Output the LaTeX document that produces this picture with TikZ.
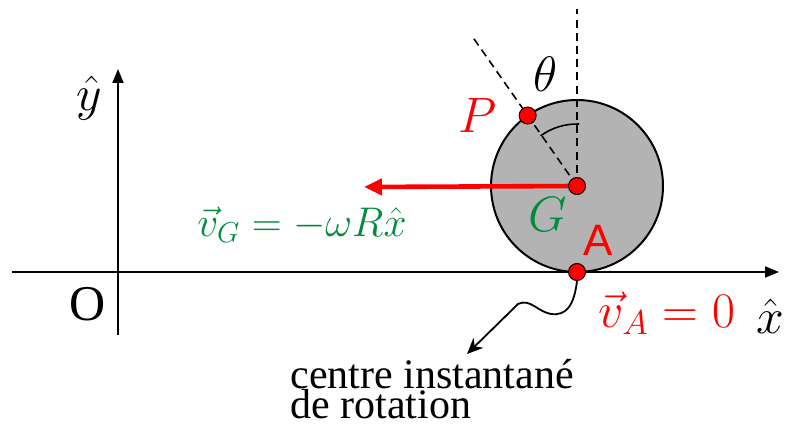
\documentclass[tikz,border=0pt]{standalone}
\usepackage{fontspec}
\setmainfont{Liberation Serif}
\newfontfamily\arialfont{Liberation Sans}
\usepackage{tikz}
\usetikzlibrary{arrows.meta,positioning,calc}

\definecolor{vgreen}{RGB}{0,140,60}
\definecolor{vred}{RGB}{255,0,0}
\definecolor{diskgray}{RGB}{179,179,179}

\tikzset{
  axis/.style={line width=1pt,-{Triangle[length=7pt,width=5.5pt]}},
  guide/.style={line width=0.8pt,dash pattern=on 4pt off 2.6pt},
  dot/.style={circle,draw=black,line width=0.5pt,fill=vred,inner sep=0pt,minimum size=8.5pt},
  lbl/.style={inner sep=0pt}
}

\begin{document}
\begin{tikzpicture}[x=0.5pt,y=0.5pt]
  \useasboundingbox (0,0) rectangle (786,428);
  % ---- axes ----
  \coordinate (xstart) at (12,156);
  \coordinate (xend) at (779,156);
  \coordinate (ystart) at (118,93);
  \coordinate (yend) at (118,359);
  \draw[axis] (xstart) -- (xend);
  \draw[axis] (ystart) -- (yend);
  \node[lbl,font=\fontsize{25}{30}\selectfont] (O) at (88,124) {O};
  \node[lbl,font=\fontsize{24}{28}\selectfont] (yhat) at (89,330) {$\hat{y}$};
  \node[lbl,font=\fontsize{24}{28}\selectfont] (xhat) at (770,112) {$\hat{x}$};

  % ---- disque (centre G, point de contact A) ----
  \coordinate (Gc) at (577,242);
  \draw[fill=diskgray,line width=1pt] (Gc) circle (86);
  % verticale et direction de P (angle theta)
  \coordinate (vtop) at (577,419);
  \coordinate (ptop) at ($(Gc)+(125:182)$);
  \draw[guide] (Gc) -- (vtop);
  \draw[guide] (Gc) -- (ptop);
  \draw[line width=0.8pt] ($(Gc)+(88:62)$) arc (88:126:62);
  \node[lbl,font=\fontsize{24}{28}\selectfont] (theta) at (546,354) {$\theta$};

  % vitesse de G
  \coordinate (vGtip) at (364,241);
  \draw[vred,line width=2.3pt,-{Triangle[length=9pt,width=8pt]}] (Gc) -- (vGtip);
  \node[lbl,text=vgreen,font=\fontsize{22}{26}\selectfont] (vG) at (302,203) {$\vec{v}_G=-\omega R\hat{x}$};

  % points P, G, A
  \node[dot] (P) at ($(Gc)+(125:86)$) {};
  \node[dot] (G) at (Gc) {};
  \node[dot] (A) at (577,156) {};
  \node[lbl,text=vred,font=\fontsize{26}{30}\selectfont] (Plabel) at (478,312) {$P$};
  \node[lbl,text=vgreen,font=\fontsize{26}{30}\selectfont] (Glabel) at (548,213) {$G$};
  \node[lbl,text=vred,font=\arialfont\fontsize{22}{26}\selectfont] (Alabel) at (598,188) {A};
  \node[lbl,text=vred,font=\fontsize{27}{31}\selectfont] (vA) at (667,115) {$\vec{v}_A=0$};

  % centre instantane de rotation (fleche ondulee)
  \node[lbl,align=left,anchor=north west,font=\fontsize{21}{15}\selectfont] (cir) at (290,69) {centre instantané\\de rotation};
  \coordinate (cirtip) at (467,74);
  \draw[line width=0.9pt,-{Stealth[length=8pt,width=7pt]}] (A.south)
    .. controls (574,122) and (566,112) .. (551,114)
    .. controls (538,116) and (530,130) .. (518,124) -- (cirtip);
\end{tikzpicture}
\end{document}
